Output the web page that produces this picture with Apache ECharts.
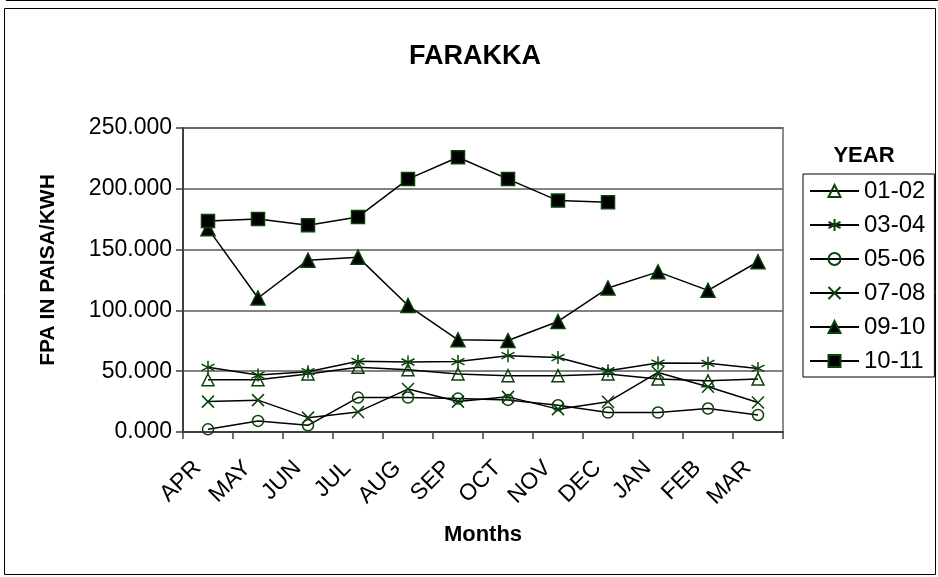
<!DOCTYPE html>
<html>
<head>
<meta charset="utf-8">
<title>FARAKKA</title>
<script src="https://cdn.jsdelivr.net/npm/echarts@6/dist/echarts.min.js"></script>
<style>
    html, body { margin: 0; padding: 0; background: #fff; }
    #chart { width: 938px; height: 577px; }
</style>
</head>
<body>
<div id="chart"></div>
<script>
    // 月份 (financial year APR..MAR)
    var months = ['APR', 'MAY', 'JUN', 'JUL', 'AUG', 'SEP', 'OCT', 'NOV', 'DEC', 'JAN', 'FEB', 'MAR'];
    var yTicks = [0, 50, 100, 150, 200, 250];

    // FPA values, paisa/kWh
    var fpa0102 = [43.0, 43.0, 47.7, 53.2, 51.2, 47.7, 46.3, 46.3, 47.7, 43.5, 42.1, 43.5];
    var fpa0304 = [53.2, 46.8, 49.6, 58.1, 57.6, 57.9, 62.8, 61.2, 50.4, 56.7, 56.5, 52.3];
    var fpa0506 = [2.2, 9.1, 5.5, 28.3, 28.3, 27.5, 26.4, 22.0, 16.0, 16.0, 19.3, 14.0];
    var fpa0708 = [25.0, 26.2, 11.8, 16.5, 35.3, 25.0, 28.9, 18.8, 24.8, 49.0, 37.2, 24.2];
    var fpa0910 = [167.2, 110.2, 141.3, 143.8, 104.0, 75.8, 75.2, 90.9, 118.4, 131.7, 116.5, 140.0];
    var fpa1011 = [173.6, 175.2, 170.0, 176.9, 208.0, 225.9, 208.0, 190.3, 189.0, null, null, null];

    var green = '#0a420a';
    var font = "'Liberation Sans', Arial, sans-serif";
    var asterisk = 'path://M0,-10L0,10M-8.66,-5L8.66,5M-8.66,5L8.66,-5';
    var cross = 'path://M-5,-5L5,5M-5,5L5,-5';

    function makeSeries(name, data, symbol, size, fill) {
        return {
            name: name,
            type: 'line',
            data: data,
            symbol: symbol,
            symbolSize: size,
            showAllSymbol: true,
            lineStyle: {color: '#000', width: 1.5},
            itemStyle: {color: fill, borderColor: green, borderWidth: 1.5},
            emphasis: {disabled: true}
        };
    }

    var myChart = echarts.init(document.getElementById('chart'));
    myChart.setOption({
        animation: false,
        backgroundColor: '#fff',
        textStyle: {fontFamily: font, color: '#000'},
        title: [
            {
                text: 'FARAKKA',
                left: 475,
                top: 43,
                padding: 0,
                textAlign: 'center',
                textStyle: {fontSize: 27, fontWeight: 'bold', color: '#000', fontFamily: font}
            },
            {
                text: 'YEAR',
                left: 864,
                top: 145,
                padding: 0,
                textAlign: 'center',
                textStyle: {fontSize: 22, fontWeight: 'bold', color: '#000', fontFamily: font}
            }
        ],
        legend: {
            orient: 'vertical',
            left: 803,
            top: 174,
            padding: [5, 9, 4, 6],
            itemWidth: 49,
            itemHeight: 15,
            itemGap: 10,
            itemTextGap: 6,
            borderColor: '#000',
            borderWidth: 1,
            borderRadius: 0,
            textStyle: {fontSize: 24, lineHeight: 24, color: '#000', fontFamily: font},
            data: ['01-02', '03-04', '05-06', '07-08', '09-10', '10-11']
        },
        grid: {
            left: 183,
            right: 155,
            top: 128,
            bottom: 145,
            show: true,
            borderColor: '#8c8c8c',
            borderWidth: 2
        },
        xAxis: {
            type: 'category',
            data: months,
            boundaryGap: true,
            axisLine: {lineStyle: {color: '#404040', width: 2}},
            axisTick: {show: true, interval: 0, length: 7, lineStyle: {color: '#404040', width: 1.5}},
            axisLabel: {
                interval: 0,
                rotate: 45,
                margin: 22,
                padding: [0, 15, 0, 0],
                fontSize: 23,
                color: '#000',
                fontFamily: font
            },
            name: 'Months',
            nameLocation: 'middle',
            nameGap: 92,
            nameTextStyle: {fontSize: 22, fontWeight: 'bold', color: '#000', fontFamily: font}
        },
        yAxis: {
            type: 'value',
            min: yTicks[0],
            max: yTicks[yTicks.length - 1],
            interval: 50,
            axisLine: {show: true, lineStyle: {color: '#404040', width: 2}},
            axisTick: {show: true, length: 7, lineStyle: {color: '#404040', width: 1.5}},
            axisLabel: {
                margin: 11,
                fontSize: 23,
                color: '#000',
                fontFamily: font,
                formatter: function (v) { return v.toFixed(3); }
            },
            splitLine: {lineStyle: {color: '#5a5a5a', width: 1.5}},
            name: 'FPA IN PAISA/KWH',
            nameLocation: 'middle',
            nameRotate: 90,
            nameGap: 124,
            nameTextStyle: {fontSize: 21, fontWeight: 'bold', color: '#000', fontFamily: font, padding: [0, 0, 0, 20]}
        },
        graphic: [
            {type: 'rect', shape: {x: 4.5, y: 8.5, width: 931, height: 566}, style: {fill: 'none', stroke: '#000', lineWidth: 1}, silent: true},
            {type: 'line', shape: {x1: 6, y1: 0.5, x2: 938, y2: 0.5}, style: {stroke: '#000', lineWidth: 1}, silent: true}
        ],
        series: [
            makeSeries('01-02', fpa0102, 'triangle', 12, 'rgba(0,0,0,0)'),
            makeSeries('03-04', fpa0304, asterisk, 13, 'rgba(0,0,0,0)'),
            makeSeries('05-06', fpa0506, 'circle', 11, 'rgba(0,0,0,0)'),
            makeSeries('07-08', fpa0708, cross, 12, 'rgba(0,0,0,0)'),
            makeSeries('09-10', fpa0910, 'triangle', 14, '#000'),
            makeSeries('10-11', fpa1011, 'rect', 13, '#000')
        ]
    });
</script>
</body>
</html>
